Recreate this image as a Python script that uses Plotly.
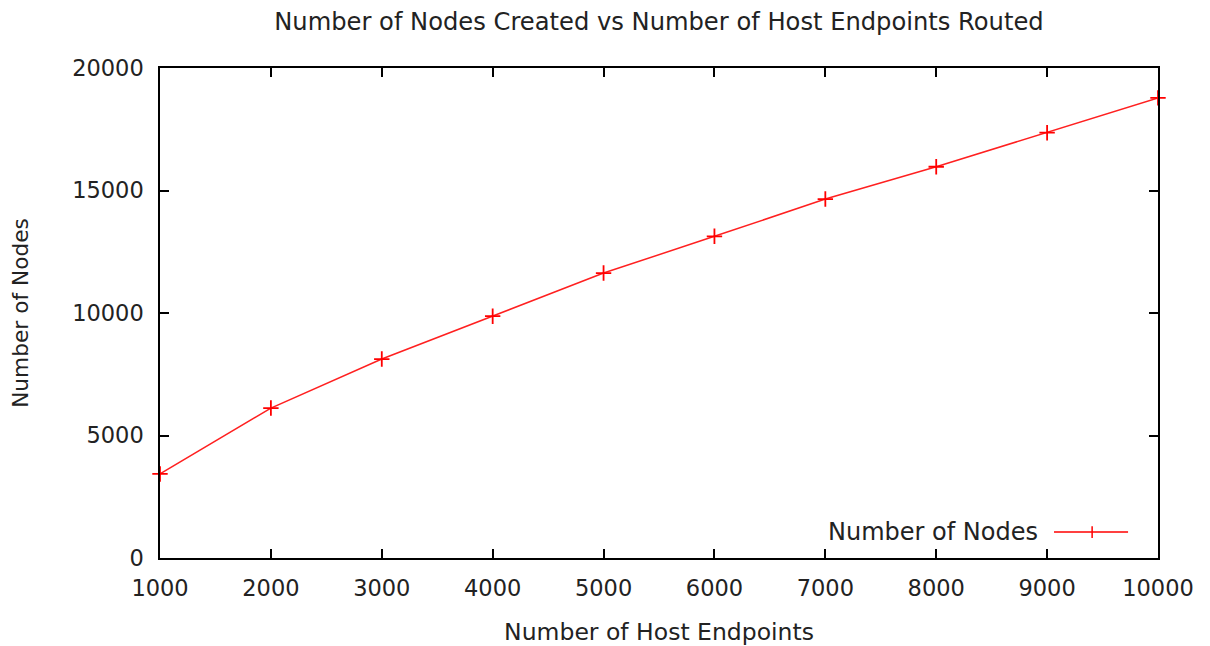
import plotly.graph_objects as go

hosts = [1000, 2000, 3000, 4000, 5000, 6000, 7000, 8000, 9000, 10000]
nodes = [3430, 6120, 8120, 9870, 11630, 13130, 14650, 15970, 17360, 18780]
x_ticks = [1000, 2000, 3000, 4000, 5000, 6000, 7000, 8000, 9000, 10000]
y_ticks = [0, 5000, 10000, 15000, 20000]

FONT = "DejaVu Sans"
TXT = "#222222"

fig = go.Figure()
fig.add_trace(go.Scatter(
    x=hosts, y=nodes, mode="lines+markers", name="Number of Nodes",
    line=dict(color="#ff2020", width=1.5),
    marker=dict(symbol="cross-thin", size=11, line=dict(color="#ff0000", width=1.8)),
    cliponaxis=False, showlegend=False,
))

axis_common = dict(
    showgrid=False, zeroline=False, showline=True, linecolor="#000000", linewidth=1.5,
    mirror="ticks", ticks="inside", ticklen=9, tickwidth=1.5, tickcolor="#000000",
    tickfont=dict(family=FONT, size=22.5, color=TXT), automargin=False,
)
fig.update_xaxes(range=[1000, 10000], tickvals=x_ticks, ticktext=[str(v) for v in x_ticks],
                 ticklabelstandoff=9, **axis_common,
                 title=dict(text="Number of Host Endpoints", font=dict(family=FONT, size=23.5, color=TXT), standoff=24))
fig.update_yaxes(range=[0, 20000], tickvals=y_ticks, ticktext=[str(v) for v in y_ticks],
                 ticklabelstandoff=10, **axis_common,
                 title=dict(text="Number of Nodes", font=dict(family=FONT, size=21.7, color=TXT), standoff=38))

# legend key (gnuplot style: text left, sample right)
fig.add_annotation(x=0.882, y=0.053, xref="paper", yref="paper", text="Number of Nodes",
                   showarrow=False, xanchor="right", yanchor="middle",
                   font=dict(family=FONT, size=24, color=TXT))
fig.add_shape(type="line", xref="paper", yref="paper", x0=0.8958, x1=0.970, y0=0.053, y1=0.053,
              line=dict(color="#ff0000", width=1.5))
fig.add_shape(type="line", xref="paper", yref="paper", x0=0.934, x1=0.934, y0=0.041, y1=0.065,
              line=dict(color="#ff0000", width=1.5))

fig.update_layout(
    width=1210, height=646,
    margin=dict(l=160, r=52, t=68, b=88),
    paper_bgcolor="white", plot_bgcolor="white",
    title=dict(text="Number of Nodes Created vs Number of Host Endpoints Routed",
               x=0.5446, xanchor="center", y=0.967, yanchor="middle",
               font=dict(family=FONT, size=24.2, color=TXT)),
)
fig.write_html("out.html")
